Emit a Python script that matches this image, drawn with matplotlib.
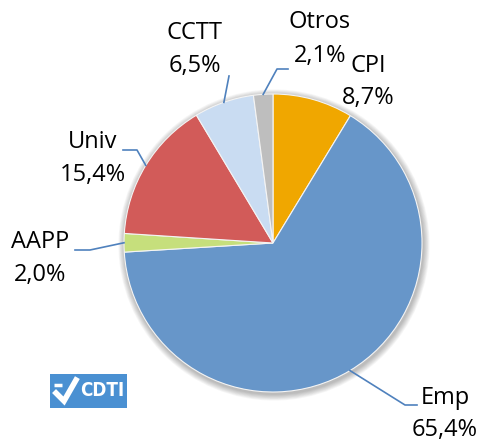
import numpy as np
import matplotlib
matplotlib.use('Agg')
import matplotlib.pyplot as plt
from matplotlib.patches import Circle, Rectangle

# Data (clockwise from 12 o'clock)
labels = ['CPI', 'Emp', 'AAPP', 'Univ', 'CCTT', 'Otros']
values = [8.7, 65.4, 2.0, 15.4, 6.5, 2.1]
pct_text = ['8,7%', '65,4%', '2,0%', '15,4%', '6,5%', '2,1%']
colors = ['#F0A700', '#6796C9', '#C6DF7C', '#D25B59', '#C9DCF2', '#BEBEBE']

# Layout (pixel coords, y measured from top)
W, H = 482, 441
cx, cy, R = 273, 243, 149
label_pos = {'CPI': (368, 66, 98), 'Emp': (445, 398, 430), 'AAPP': (40, 242, 275),
             'Univ': (93, 142, 175), 'CCTT': (195, 33, 66), 'Otros': (320, 22, 56)}
leader = {'Otros': [(277, 69), (288, 69)], 'CCTT': [(229, 76)],
          'Univ': [(137, 150), (123, 150)], 'AAPP': [(90, 250), (75, 250)],
          'Emp': [(405, 405), (417, 405)]}

plt.rcParams['font.family'] = ['Open Sans', 'DejaVu Sans']

fig = plt.figure(figsize=(W / 100, H / 100), dpi=100)
ax = fig.add_axes([0, 0, 1, 1])

# soft shadow around pie
for i in range(8):
    ax.add_patch(Circle((cx + 1, H - cy - 2), R + 1 + i * 0.8, color='black',
                        alpha=0.035, lw=0, zorder=0))

wedges, _ = ax.pie(values, colors=colors, startangle=90, counterclock=False,
                   center=(cx, H - cy), radius=R, frame=True,
                   wedgeprops=dict(edgecolor='#F4F4F4', linewidth=0.8))
ax.set_xlim(0, W)
ax.set_ylim(0, H)
ax.set_aspect('equal')
ax.axis('off')

for w, lab, pt in zip(wedges, labels, pct_text):
    ang = np.deg2rad((w.theta1 + w.theta2) / 2)
    x0 = cx + R * np.cos(ang)
    y0 = cy - R * np.sin(ang)
    if lab in leader:
        pts = [(x0, y0)] + leader[lab]
        xs = [p[0] for p in pts]
        ys = [H - p[1] for p in pts]
        ax.plot(xs, ys, color='#4F81BD', lw=1.2, zorder=5)
    tx, ty1, ty2 = label_pos[lab]
    ax.text(tx, H - ty1, lab, ha='center', va='center', fontsize=17, color='black')
    ax.text(tx, H - ty2, pt, ha='center', va='center', fontsize=17, color='black')

# CDTI logo
ax.add_patch(Rectangle((50, H - 408), 77, 34, color='#4A90D2', lw=0, zorder=6))
ax.plot([54, 62], [H - 385, H - 385], color='white', lw=2.5, zorder=7,
        solid_capstyle='butt')
ax.plot([56, 64, 76], [H - 393, H - 401, H - 380], color='white', lw=4, zorder=7,
        solid_joinstyle='miter')
ax.text(102, H - 391, 'CDTI', ha='center', va='center', fontsize=13.5, color='white',
        fontweight='bold', zorder=7, family='DejaVu Sans', fontstretch='condensed')

fig.savefig('out.png', dpi=100)
